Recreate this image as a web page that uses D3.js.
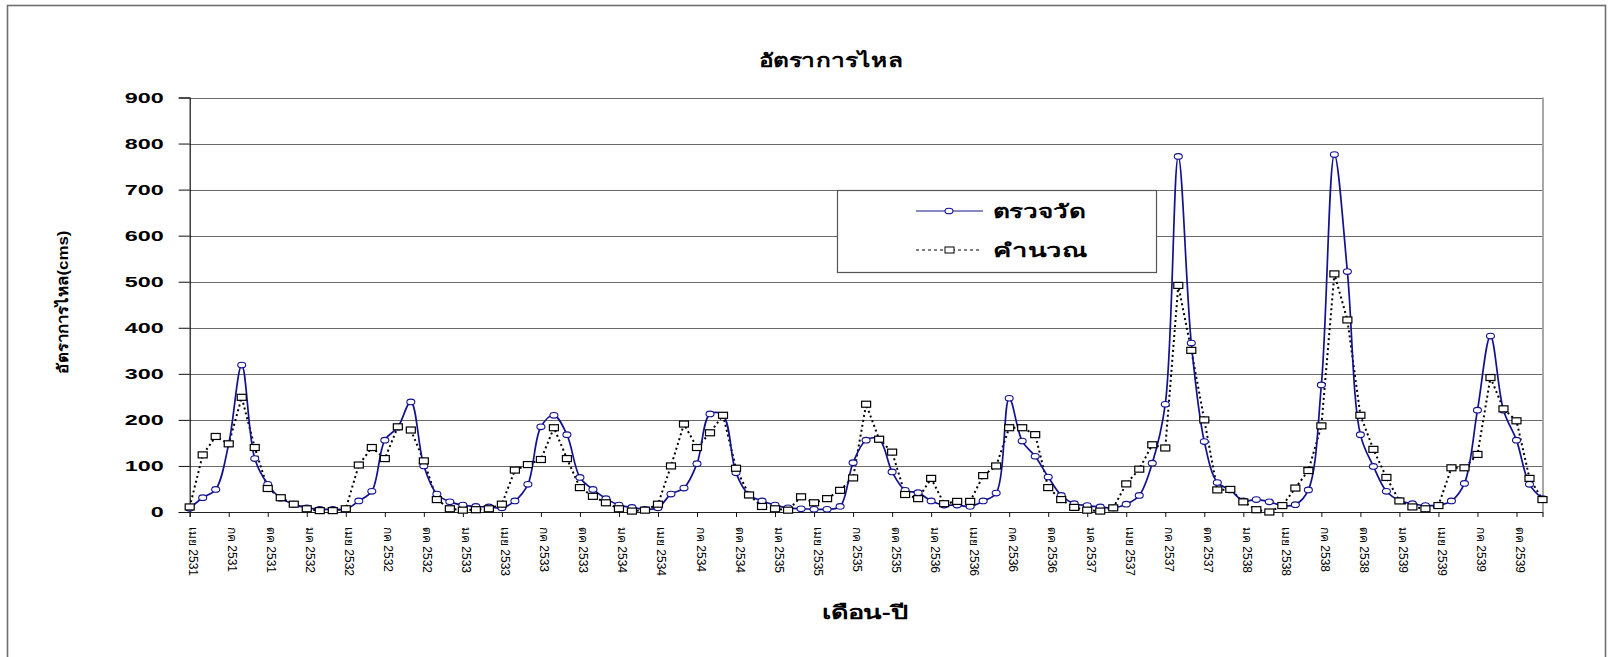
<!DOCTYPE html>
<html><head><meta charset="utf-8">
<script src="https://cdn.jsdelivr.net/npm/d3@7/dist/d3.min.js"></script>
<style>body{margin:0;background:#fff}svg{display:block}</style>
</head><body>
<svg id="c" width="1613" height="657"></svg>
<script>
// ---- data ----
const monthNames = ["มค","กพ","มีค","เมย","พค","มิย","กค","สค","กย","ตค","พย","ธค"];
const startMonthIndex = 3;   // เมย
const startYear = 2531;
const measured = [8,31,49,148,319,116,60,30,17,9,6,6,6,24,45,156,184,239,100,39,22,15,12,11,9,24,60,185,210,168,75,49,29,15,10,6,9,39,52,105,213,210,85,37,24,15,9,7,6,6,12,107,156,158,87,47,42,24,15,15,12,24,41,247,154,121,76,36,18,14,11,9,17,36,106,234,772,367,153,64,48,24,27,22,14,16,48,276,776,522,168,99,45,25,18,14,15,24,62,221,382,221,156,60,29];
const calculated = [11,124,164,148,249,140,51,31,17,7,3,3,7,102,140,116,185,178,111,27,7,4,5,7,17,91,103,114,183,116,53,34,20,7,2,4,17,100,191,140,172,210,95,37,12,7,4,33,20,29,47,74,234,158,130,38,29,73,18,23,23,79,100,183,183,168,53,27,10,4,2,9,61,93,146,139,492,351,200,48,49,22,5,0,14,52,90,187,517,417,210,136,75,24,11,7,14,96,96,125,292,224,198,73,27];
const yTicks = [0,100,200,300,400,500,600,700,800,900];
const seriesNames = ["ตรวจวัด","คำนวณ"];
const chartTitle = "อัตราการไหล";
const xTitle = "เดือน-ปี";
const yTitle = "อัตราการไหล(cms)";
const labelEvery = 3;

const categories = measured.map((_, i) => {
  const m = startMonthIndex + i;
  return monthNames[m % 12] + " " + (startYear + Math.floor(m / 12));
});

// ---- layout ----
const svg = d3.select("#c");
const L = 189.7, R = 1542.5, T = 97.5, B = 512;
const x = d3.scalePoint().domain(categories).range([L, R]).padding(0);
const y = d3.scaleLinear().domain([0, 900]).range([B, T]);
const FONT = "'Liberation Sans', Arial, 'Noto Sans', 'DejaVu Sans', sans-serif";
const NAVY = "#12128f";

// outer border
svg.append("rect").attr("x", 7.5).attr("y", 5.5).attr("width", 1598).attr("height", 720)
  .attr("fill", "#fff").attr("stroke", "#6e6e6e").attr("stroke-width", 1.6);

// gridlines
svg.append("g").selectAll("line").data(yTicks.filter(d => d > 0)).join("line")
  .attr("x1", L).attr("x2", R).attr("y1", d => Math.round(y(d)) + 0.5).attr("y2", d => Math.round(y(d)) + 0.5)
  .attr("stroke", "#6a6a6a").attr("stroke-width", 1.1);
// right border of plot
svg.append("line").attr("x1", R + 0.5).attr("x2", R + 0.5).attr("y1", y(900)).attr("y2", B)
  .attr("stroke", "#8a8a8a").attr("stroke-width", 1.5);

// y axis
const yAxis = d3.axisLeft(y).tickValues(yTicks).tickSize(11).tickPadding(15);
const gy = svg.append("g").attr("transform", `translate(${L},0)`).call(yAxis);
gy.select(".domain").attr("stroke", "#111").attr("stroke-width", 1.2);
gy.selectAll(".tick line").attr("stroke", "#111");
gy.selectAll(".tick text").attr("font-family", FONT).attr("font-weight", "bold")
  .attr("font-size", 15).attr("fill", "#000")
  .attr("textLength", d => String(d).length * 13).attr("lengthAdjust", "spacingAndGlyphs");

// x axis
const tickCats = categories.filter((_, i) => i % labelEvery === 0);
const xAxis = d3.axisBottom(x).tickValues(tickCats).tickSize(5).tickFormat("");
const gx = svg.append("g").attr("transform", `translate(0,${B})`).call(xAxis);
gx.select(".domain").attr("stroke", "#222").attr("stroke-width", 1.2);
gx.selectAll(".tick line").attr("stroke", "#111");
svg.append("g").selectAll("text").data(tickCats).join("text")
  .attr("transform", d => `translate(${x(d) + 3.5},${B + 15}) rotate(90)`)
  .attr("dominant-baseline", "central").attr("text-anchor", "start")
  .attr("font-family", FONT).attr("font-size", 12).attr("fill", "#000")
  .text(d => d);

// series lines
const lineM = d3.line().x((d, i) => x(categories[i])).y(d => y(d)).curve(d3.curveCatmullRom.alpha(0.5));
const lineC = d3.line().x((d, i) => x(categories[i])).y(d => y(d));
svg.append("path").datum(calculated).attr("d", lineC).attr("fill", "none")
  .attr("stroke", "#000").attr("stroke-width", 2).attr("stroke-dasharray", "2,3");
svg.append("path").datum(measured).attr("d", lineM).attr("fill", "none")
  .attr("stroke", NAVY).attr("stroke-width", 1.7);

// markers
svg.append("g").selectAll("ellipse").data(measured).join("ellipse")
  .attr("cx", (d, i) => x(categories[i])).attr("cy", d => y(d)).attr("rx", 4).attr("ry", 2.8)
  .attr("fill", "#fff").attr("stroke", NAVY).attr("stroke-width", 1.1);
svg.append("g").selectAll("rect").data(calculated).join("rect")
  .attr("x", (d, i) => x(categories[i]) - 4.5).attr("y", d => y(d) - 3).attr("width", 9).attr("height", 6)
  .attr("fill", "#fff").attr("stroke", "#000").attr("stroke-width", 1.2);

// legend
const lg = svg.append("g");
lg.append("rect").attr("x", 837.5).attr("y", 190.5).attr("width", 319).attr("height", 82)
  .attr("fill", "#fff").attr("stroke", "#555").attr("stroke-width", 1.2);
lg.append("line").attr("x1", 916).attr("x2", 983).attr("y1", 211).attr("y2", 211)
  .attr("stroke", NAVY).attr("stroke-width", 1.2);
lg.append("ellipse").attr("cx", 949).attr("cy", 211).attr("rx", 4).attr("ry", 2.8)
  .attr("fill", "#fff").attr("stroke", NAVY).attr("stroke-width", 1.1);
lg.append("line").attr("x1", 916).attr("x2", 981).attr("y1", 250).attr("y2", 250)
  .attr("stroke", "#000").attr("stroke-width", 1).attr("stroke-dasharray", "3,3");
lg.append("rect").attr("x", 945).attr("y", 247).attr("width", 9).attr("height", 6)
  .attr("fill", "#fff").attr("stroke", "#000").attr("stroke-width", 1);
lg.selectAll("text.l").data(seriesNames).join("text").attr("class", "l")
  .attr("x", 993).attr("y", (d, i) => i === 0 ? 218 : 257)
  .attr("font-family", FONT).attr("font-weight", "bold").attr("font-size", 19).attr("fill", "#000")
  .attr("textLength", (d, i) => i === 0 ? 92 : 95).attr("lengthAdjust", "spacingAndGlyphs")
  .text(d => d);

// titles
svg.append("text").attr("x", 831).attr("y", 67).attr("text-anchor", "middle")
  .attr("font-family", FONT).attr("font-weight", "bold").attr("font-size", 19)
  .attr("textLength", 144).attr("lengthAdjust", "spacingAndGlyphs").text(chartTitle);
svg.append("text").attr("x", 865).attr("y", 619).attr("text-anchor", "middle")
  .attr("font-family", FONT).attr("font-weight", "bold").attr("font-size", 19)
  .attr("textLength", 86).attr("lengthAdjust", "spacingAndGlyphs").text(xTitle);
svg.append("text").attr("transform", "translate(68,302) rotate(-90)").attr("text-anchor", "middle")
  .attr("font-family", FONT).attr("font-weight", "bold").attr("font-size", 15)
  .attr("textLength", 143).attr("lengthAdjust", "spacingAndGlyphs").text(yTitle);
</script>
</body></html>
